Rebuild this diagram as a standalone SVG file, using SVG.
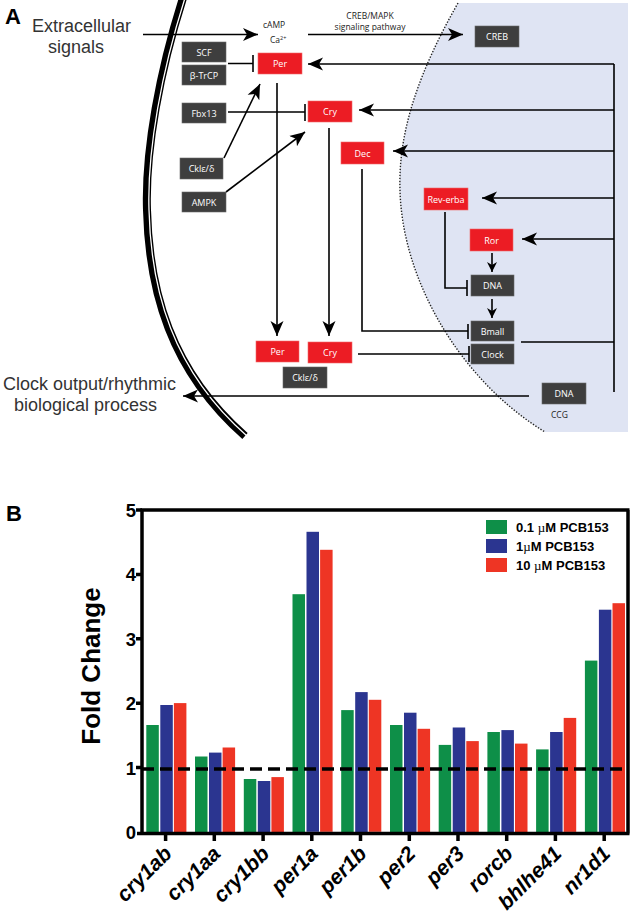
<svg xmlns="http://www.w3.org/2000/svg" width="633" height="918" viewBox="0 0 633 918">
<style>
.bx{fill:#3e3e3e;stroke:#6a6a6a;stroke-width:0.6}
.rb{fill:#ec1c24;stroke:#f26a6a;stroke-width:0.6}
.bt{font-family:"Open Sans","Noto Sans",sans-serif;font-size:9px;fill:#fff;text-anchor:middle}
.ln{fill:none;stroke:#000;stroke-width:1.6}
.ar{marker-end:url(#ah)}
.as{marker-end:url(#ahs)}
.big{font-family:"Liberation Sans",Arial,sans-serif;font-size:18px;fill:#333}
.sm{font-family:"Open Sans","Noto Sans",sans-serif;font-size:8.5px;fill:#222}
.tk{font-family:"Liberation Sans",Arial,sans-serif;font-size:18.5px;font-weight:bold;text-anchor:end}
.xl{font-family:"Liberation Sans",Arial,sans-serif;font-size:21px;font-weight:bold;font-style:italic;text-anchor:end}
.lg{font-family:"Liberation Sans",Arial,sans-serif;font-size:13px;font-weight:bold}
.g{fill:#0e8f48}.b{fill:#2b3590}.r{fill:#ee3524}
.ax{stroke:#000;stroke-width:3.5;fill:none}
</style>
<defs>
<marker id="ah" markerWidth="16" markerHeight="14" refX="15" refY="7" orient="auto" markerUnits="userSpaceOnUse"><path d="M0,0.5 L15,7 L0,13.5 L4,7 Z" fill="#000"/></marker>
<marker id="ahs" markerWidth="11" markerHeight="11" refX="10" refY="5" orient="auto" markerUnits="userSpaceOnUse"><path d="M0,0 L10,5 L0,10 L3,5 Z" fill="#000"/></marker>
<path id="memb" d="M183,-2 C160,70 145,150 147,210 C149,290 170,370 245,436"/>
</defs>

<!-- Panel A background shapes -->
<path id="nucleus" d="M458,3 C420,70 398,130 400,190 C402,280 460,380 545,432 L628,432 L628,3 Z" fill="#dfe4f3" stroke="none"/>
<path d="M458,3 C420,70 398,130 400,190 C402,280 460,380 545,432" fill="none" stroke="#222" stroke-width="1.4" stroke-dasharray="1.4 1.6"/>
<g id="membrane">
<use href="#memb" fill="none" stroke="#000" stroke-width="8"/>
<use href="#memb" transform="translate(2,0)" fill="none" stroke="#fff" stroke-width="1.3"/>
</g>

<text x="5" y="24" font-family="Liberation Sans,Arial,sans-serif" font-size="22" font-weight="bold">A</text>
<text class="big" x="32" y="32">Extracellular</text>
<text class="big" x="48" y="53">signals</text>
<text class="big" x="3" y="390">Clock output/rhythmic</text>
<text class="big" x="14" y="411">biological process</text>
<text class="sm" x="263" y="28">cAMP</text>
<text class="sm" x="270" y="43">Ca<tspan font-size="5.5" dy="-3">2+</tspan></text>
<text class="sm" x="370" y="19" text-anchor="middle">CREB/MAPK</text>
<text class="sm" x="370" y="30" text-anchor="middle">signaling pathway</text>
<text class="sm" x="551" y="418">CCG</text>

<!-- connectors -->
<g id="connectors">
<path class="ln ar" d="M143,34.5 H258"/>
<path class="ln ar" d="M308,34.5 H463"/>
<path class="ln" d="M228,63.5 H253 M253,55 V72"/>
<path class="ln" d="M228,112 H305 M305,104 V121"/>
<path class="ln ar" d="M224,158 L260,84"/>
<path class="ln ar" d="M226,192 L305,132"/>
<path class="ln ar" d="M277,83 V336"/>
<path class="ln ar" d="M329,128 V336"/>
<path class="ln" d="M362,169 V331 H468 M468,324 V339"/>
<path class="ln" d="M445,212 V288 H467 M467,280 V296"/>
<path class="ln as" d="M492,253 V272"/>
<path class="ln as" d="M492,299 V318"/>
<path class="ln" d="M358,354 H469 M469,346 V362"/>
<path class="ln" d="M521,342 H614 M614,64 V392"/>
<path class="ln ar" d="M614,64 H308"/>
<path class="ln ar" d="M614,110 H359"/>
<path class="ln ar" d="M614,151 H393"/>
<path class="ln ar" d="M614,198 H482"/>
<path class="ln ar" d="M614,239 H522"/>
<path class="ln ar" d="M529,396 H183"/>
</g>

<!-- nodes -->
<g id="scf"><rect class="bx" x="182" y="42" width="44" height="20"/><text class="bt" x="204" y="55.5">SCF</text></g>
<g id="btrcp"><rect class="bx" x="182" y="65" width="44" height="20"/><text class="bt" x="204" y="78.5">β-TrCP</text></g>
<g id="per1"><rect class="rb" x="258" y="53" width="44" height="21"/><text class="bt" x="280" y="67">Per</text></g>
<g id="fbx13"><rect class="bx" x="182" y="103" width="44" height="20"/><text class="bt" x="204" y="116.5">Fbx13</text></g>
<g id="cry1"><rect class="rb" x="308" y="101" width="44" height="21"/><text class="bt" x="330" y="115">Cry</text></g>
<g id="ckl1"><rect class="bx" x="180" y="158" width="43" height="21"/><text class="bt" x="201.5" y="172">Cklε/δ</text></g>
<g id="ampk"><rect class="bx" x="182" y="192" width="44" height="20"/><text class="bt" x="204" y="205.5">AMPK</text></g>
<g id="creb"><rect class="bx" x="475" y="26" width="44" height="21"/><text class="bt" x="497" y="40">CREB</text></g>
<g id="dec"><rect class="rb" x="341" y="142" width="43" height="22"/><text class="bt" x="362.5" y="156.5">Dec</text></g>
<g id="reverba"><rect class="rb" x="424" y="188" width="44" height="22"/><text class="bt" x="446" y="202.5">Rev-erba</text></g>
<g id="ror"><rect class="rb" x="470" y="229" width="43" height="22"/><text class="bt" x="491.5" y="243.5">Ror</text></g>
<g id="dna1"><rect class="bx" x="471" y="275" width="43" height="21"/><text class="bt" x="492.5" y="289">DNA</text></g>
<g id="bmall"><rect class="bx" x="471" y="321" width="43" height="20"/><text class="bt" x="492.5" y="334.5">Bmall</text></g>
<g id="clock"><rect class="bx" x="471" y="344" width="43" height="20"/><text class="bt" x="492.5" y="357.5">Clock</text></g>
<g id="per2"><rect class="rb" x="256" y="341" width="43" height="21"/><text class="bt" x="277.5" y="355">Per</text></g>
<g id="cry2"><rect class="rb" x="308" y="342" width="44" height="21"/><text class="bt" x="330" y="356">Cry</text></g>
<g id="ckl2"><rect class="bx" x="283" y="367" width="44" height="21"/><text class="bt" x="305" y="381">Cklε/δ</text></g>
<g id="dna2"><rect class="bx" x="542" y="383" width="44" height="21"/><text class="bt" x="564" y="397">DNA</text></g>

<!-- Panel B -->
<text x="6" y="521" font-family="Liberation Sans,Arial,sans-serif" font-size="22" font-weight="bold">B</text>
<g id="chart">
<g id="bars">
<rect class="g" x="146.3" y="725.0" width="12.5" height="107"/><rect class="b" x="160.3" y="705.0" width="12.5" height="127"/><rect class="r" x="173.9" y="703.1" width="12.5" height="129"/>
<rect class="g" x="195.0" y="756.5" width="12.5" height="76"/><rect class="b" x="209.0" y="752.6" width="12.5" height="80"/><rect class="r" x="222.6" y="747.5" width="12.5" height="85"/>
<rect class="g" x="243.8" y="779.0" width="12.5" height="53"/><rect class="b" x="257.8" y="781.0" width="12.5" height="51"/><rect class="r" x="271.4" y="777.1" width="12.5" height="55"/>
<rect class="g" x="292.5" y="594.2" width="12.5" height="238"/><rect class="b" x="306.5" y="531.8" width="12.5" height="300"/><rect class="r" x="320.1" y="549.8" width="12.5" height="282"/>
<rect class="g" x="341.2" y="710.1" width="12.5" height="122"/><rect class="b" x="355.2" y="692.1" width="12.5" height="140"/><rect class="r" x="368.8" y="699.8" width="12.5" height="132"/>
<rect class="g" x="390.0" y="725.0" width="12.5" height="107"/><rect class="b" x="404.0" y="712.7" width="12.5" height="120"/><rect class="r" x="417.6" y="728.8" width="12.5" height="104"/>
<rect class="g" x="438.7" y="744.9" width="12.5" height="88"/><rect class="b" x="452.7" y="727.5" width="12.5" height="105"/><rect class="r" x="466.3" y="741.1" width="12.5" height="91"/>
<rect class="g" x="487.4" y="732.0" width="12.5" height="100"/><rect class="b" x="501.4" y="730.1" width="12.5" height="102"/><rect class="r" x="515.0" y="743.6" width="12.5" height="89"/>
<rect class="g" x="536.1" y="749.4" width="12.5" height="83"/><rect class="b" x="550.1" y="732.0" width="12.5" height="100"/><rect class="r" x="563.7" y="717.9" width="12.5" height="114"/>
<rect class="g" x="584.9" y="660.6" width="12.5" height="172"/><rect class="b" x="598.9" y="609.7" width="12.5" height="223"/><rect class="r" x="612.5" y="603.2" width="12.5" height="229"/>
</g>
<path d="M142,769 H628" stroke="#000" stroke-width="3.5" stroke-dasharray="12 6" fill="none"/>
<path class="ax" d="M142,508.5 V833.5 M140.5,510 H629.5 M628,510 V833.5 M137,833.5 H629.5"/>
<path class="ax" stroke-width="2.5" d="M136,510 H142 M136,574.4 H142 M136,638.8 H142 M136,703.2 H142 M136,767.6 H142"/>
<path class="ax" stroke-width="2.5" d="M165.6,833 V841 M214.3,833 V841 M263.1,833 V841 M311.8,833 V841 M360.5,833 V841 M409.3,833 V841 M458,833 V841 M506.7,833 V841 M555.4,833 V841 M604.2,833 V841"/>
<g id="yticks">
<text class="tk" x="136" y="517">5</text>
<text class="tk" x="136" y="581">4</text>
<text class="tk" x="136" y="646">3</text>
<text class="tk" x="136" y="710">2</text>
<text class="tk" x="136" y="775">1</text>
<text class="tk" x="136" y="839">0</text>
</g>
<text transform="translate(100,666) rotate(-90)" text-anchor="middle" font-family="Liberation Sans,Arial,sans-serif" font-size="26" font-weight="bold">Fold Change</text>
<g id="xlabels">
<text class="xl" transform="translate(173,855) rotate(-45)">cry1ab</text>
<text class="xl" transform="translate(221.7,855) rotate(-45)">cry1aa</text>
<text class="xl" transform="translate(270.5,855) rotate(-45)">cry1bb</text>
<text class="xl" transform="translate(319.2,855) rotate(-45)">per1a</text>
<text class="xl" transform="translate(367.9,855) rotate(-45)">per1b</text>
<text class="xl" transform="translate(416.7,855) rotate(-45)">per2</text>
<text class="xl" transform="translate(465.4,855) rotate(-45)">per3</text>
<text class="xl" transform="translate(514.1,855) rotate(-45)">rorcb</text>
<text class="xl" transform="translate(562.8,855) rotate(-45)">bhlhe41</text>
<text class="xl" transform="translate(611.6,855) rotate(-45)">nr1d1</text>
</g>
<g id="legend">
<rect class="g" x="486" y="520" width="21" height="14"/>
<rect class="b" x="486" y="539" width="21" height="14"/>
<rect class="r" x="486" y="558" width="21" height="14"/>
<text class="lg" x="516" y="532">0.1 <tspan font-family="Liberation Serif,serif" font-weight="normal">µ</tspan>M PCB153</text>
<text class="lg" x="516" y="551">1<tspan font-family="Liberation Serif,serif" font-weight="normal">µ</tspan>M PCB153</text>
<text class="lg" x="516" y="570">10 <tspan font-family="Liberation Serif,serif" font-weight="normal">µ</tspan>M PCB153</text>
</g>
</g>
</svg>
